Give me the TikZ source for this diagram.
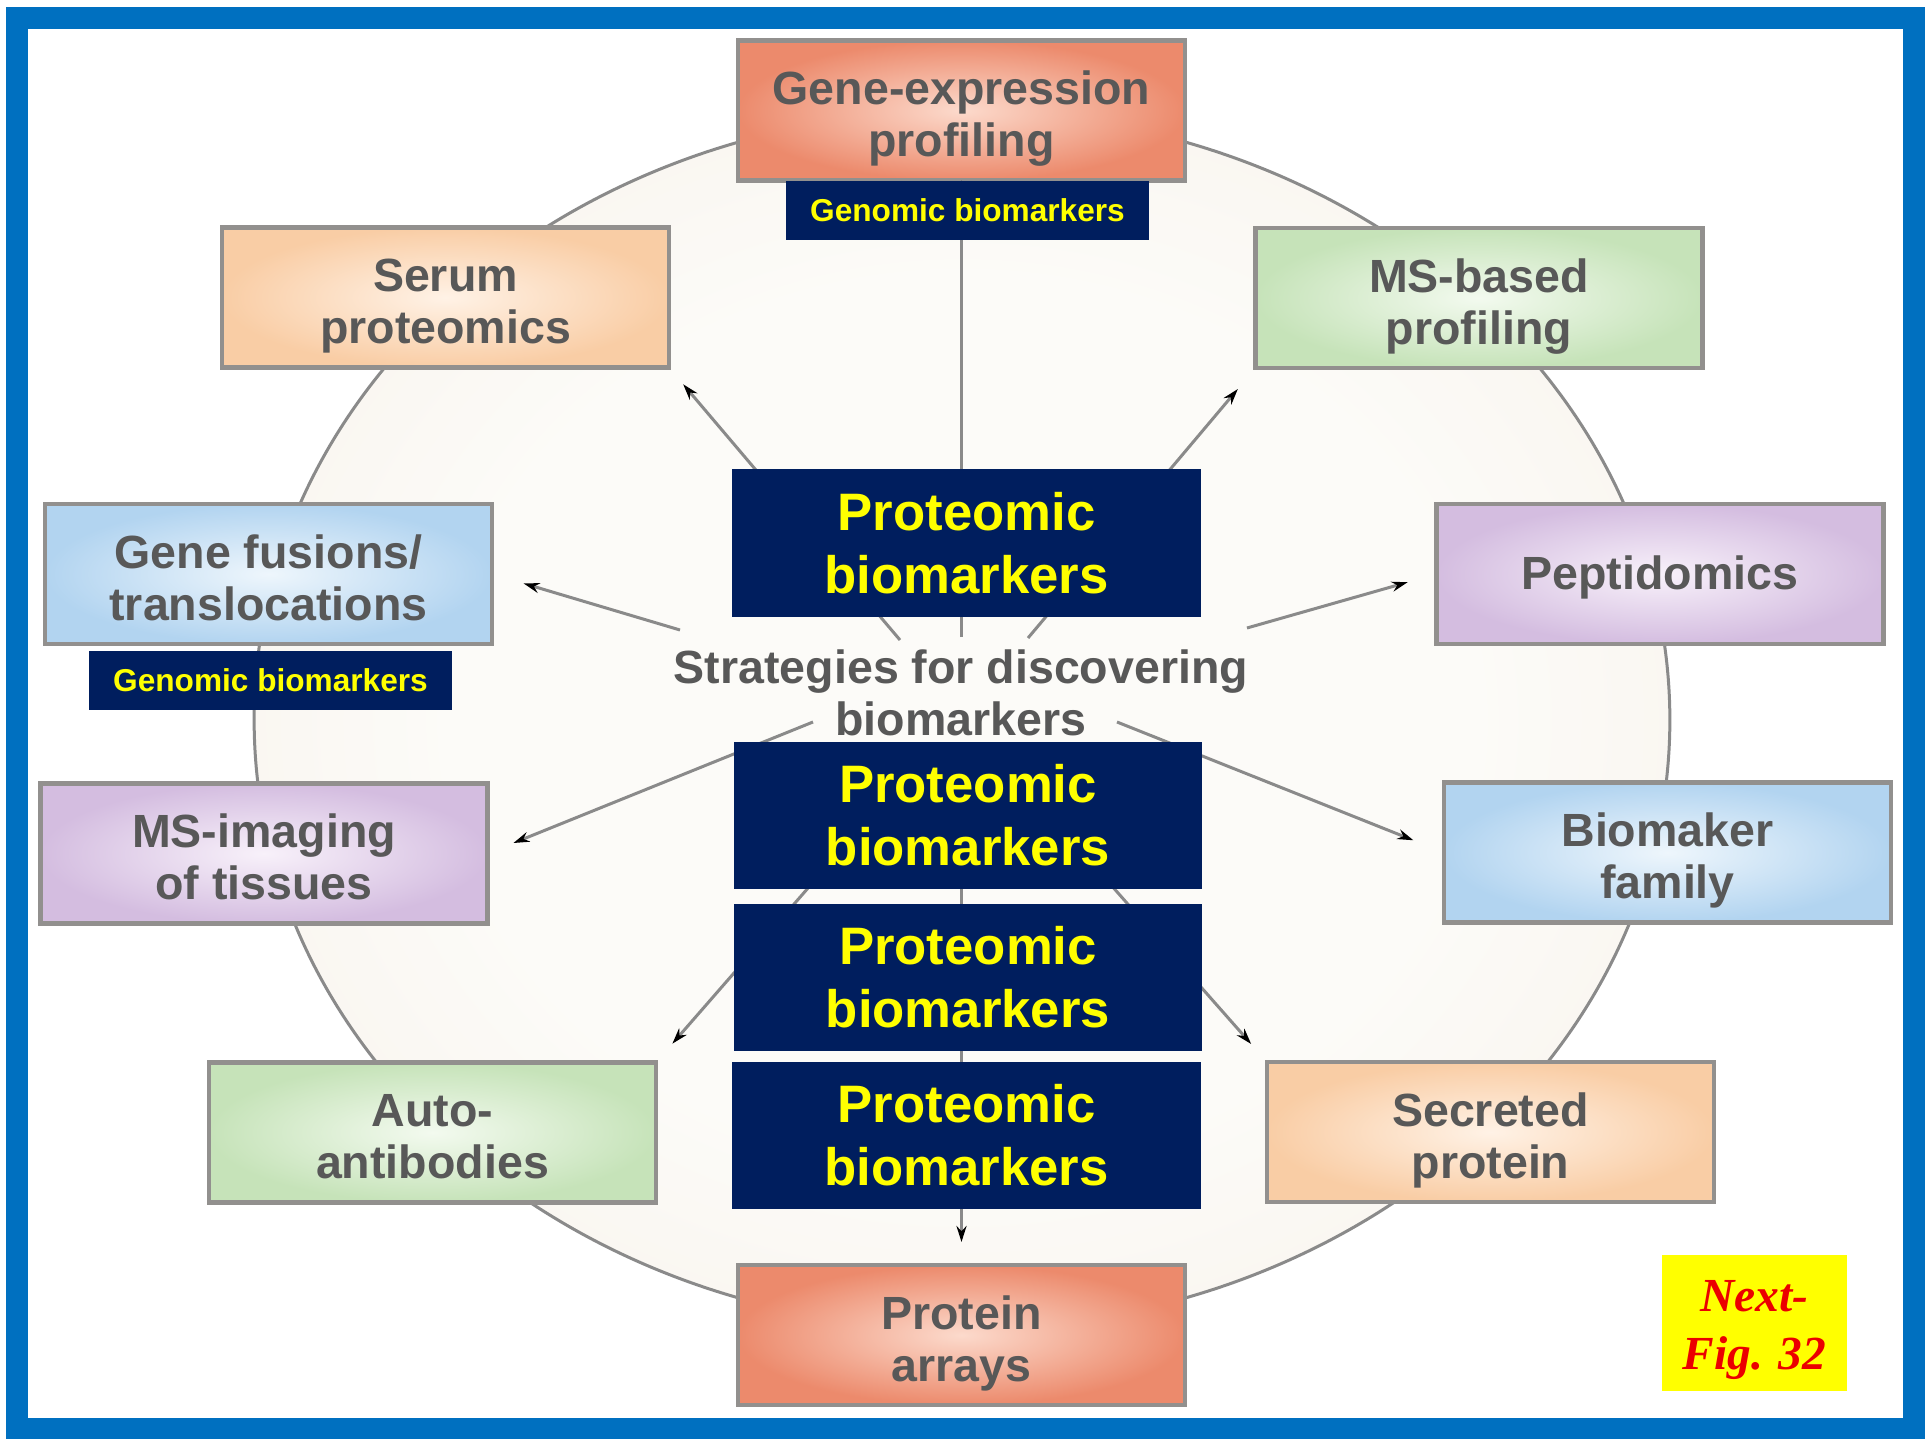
\documentclass[tikz,border=0pt]{standalone}
\usepackage{fontspec}
\setmainfont{Liberation Sans}
\newfontfamily\nextserif{Liberation Serif}
\usetikzlibrary{arrows.meta}
\definecolor{frameblue}{RGB}{0,112,192}
\definecolor{navy}{RGB}{0,30,94}
\definecolor{yel}{RGB}{255,255,0}
\definecolor{nextred}{RGB}{235,0,0}
\definecolor{linegray}{RGB}{138,138,138}
\definecolor{boxborder}{RGB}{146,144,142}
\definecolor{txtgray}{RGB}{88,88,88}
\definecolor{salmonout}{RGB}{236,138,108}
\definecolor{salmonin}{RGB}{252,218,204}
\definecolor{peachout}{RGB}{249,205,165}
\definecolor{peachin}{RGB}{255,242,230}
\definecolor{greenout}{RGB}{198,227,185}
\definecolor{greenin}{RGB}{243,250,239}
\definecolor{blueout}{RGB}{178,212,240}
\definecolor{bluein}{RGB}{238,246,252}
\definecolor{lavout}{RGB}{212,189,224}
\definecolor{lavin}{RGB}{248,241,250}
\definecolor{creamin}{RGB}{252,251,248}
\definecolor{creamout}{RGB}{242,234,219}
\pgfdeclareradialshading{creamglow}{\pgfpoint{0bp}{0bp}}{color(0bp)=(creamin); color(18bp)=(creamin); color(50bp)=(creamout)}
\newcommand{\boxtxt}[2][0.2cm]{\raisebox{-#1}[\height][\depth]{\begin{tabular}{@{}c@{}}#2\end{tabular}}}
\tikzset{
  graybox/.style={draw=boxborder, line width=0.085cm, minimum width=8.94cm, minimum height=2.8cm,
    inner sep=0pt, outer sep=0pt, text=txtgray,
    font=\fontsize{26.5}{29.5}\selectfont\bfseries},
  salmonbox/.style={graybox, inner color=salmonin, outer color=salmonout},
  peachbox/.style={graybox, inner color=peachin, outer color=peachout},
  greenbox/.style={graybox, inner color=greenin, outer color=greenout},
  bluebox/.style={graybox, inner color=bluein, outer color=blueout},
  lavbox/.style={graybox, inner color=lavin, outer color=lavout},
  navylab/.style={fill=navy, text=yel, inner sep=0pt, minimum width=7.26cm, minimum height=1.18cm,
    font=\fontsize{18}{20}\selectfont\bfseries},
  protbox/.style={fill=navy, text=yel, inner sep=0pt, minimum width=9.38cm, minimum height=2.96cm,
    align=center, font=\fontsize{30}{35.7}\selectfont\bfseries},
  ray/.style={draw=linegray, line width=0.06cm, -{Stealth[length=0.32cm, width=0.2cm, color=black]}},
  rim/.style={draw=linegray, line width=0.06cm}
}
\begin{document}
\begin{tikzpicture}[x=0.02cm, y=-0.02cm]
\useasboundingbox (0,0) rectangle (1931,1439);
\fill[white] (0,0) rectangle (1931,1439);
% background disc
\shade[shading=creamglow] (962,720) ellipse [x radius=14.16cm, y radius=12.18cm];
\draw[rim] (962,720) ellipse [x radius=14.16cm, y radius=12.18cm];
% centre text
\node[text=txtgray, align=center, inner sep=0pt, font=\fontsize{26.5}{29.5}\selectfont\bfseries] (strat) at (961,693) {Strategies for discovering\\biomarkers};
% boxes
\node[salmonbox] (geneexp) at (961.5,110.5) {\boxtxt{Gene-expression\\profiling}};
\node[peachbox] (serum) at (445.5,297.5) {\boxtxt{Serum\\proteomics}};
\node[greenbox] (msbased) at (1479,298) {\boxtxt{MS-based\\profiling}};
\node[bluebox] (genefus) at (268.5,574) {\boxtxt{Gene fusions/\\translocations}};
\node[lavbox] (peptid) at (1660,574) {\boxtxt[0.1cm]{Peptidomics}};
\node[lavbox] (msimag) at (264,853.5) {\boxtxt{MS-imaging\\of tissues}};
\node[bluebox] (biomaker) at (1667.5,852.5) {\boxtxt{Biomaker\\family}};
\node[greenbox] (autoab) at (432.5,1132.5) {\boxtxt{Auto-\\antibodies}};
\node[peachbox] (secreted) at (1490.5,1132) {\boxtxt{Secreted\\protein}};
\node[salmonbox] (protarr) at (961.5,1335) {\boxtxt{Protein\\arrays}};
% ray start points
\coordinate (s1) at (900,640);
\coordinate (s2) at (961.5,637);
\coordinate (s3) at (1028,638);
\coordinate (s4) at (680,630);
\coordinate (s5) at (1247,628);
\coordinate (s6) at (813,722);
\coordinate (s7) at (1117,722);
\coordinate (s8) at (822,872);
\coordinate (s9) at (1096,868);
\coordinate (s10) at (961.5,870);
% rays
\draw[ray, shorten >=0.44cm] (s1) -- (serum.south east);
\draw[ray] (s2) -- (geneexp.south);
\draw[ray, shorten >=0.55cm] (s3) -- (msbased.south west);
\draw[ray, shorten >=0.66cm] (s4) -- (genefus.east);
\draw[ray, shorten >=0.6cm] (s5) -- (peptid.west);
\draw[ray, shorten >=0.56cm] (s6) -- (msimag.east);
\draw[ray, shorten >=0.66cm] (s7) -- (biomaker.west);
\draw[ray, shorten >=0.5cm] (s8) -- (autoab.north east);
\draw[ray, shorten >=0.48cm] (s9) -- (secreted.north west);
\draw[ray, shorten >=0.46cm] (s10) -- (protarr.north);
% navy labels
\node[navylab] (glab1) at (967.5,210.5) {Genomic biomarkers};
\node[navylab] (glab2) at (270.5,680.5) {Genomic biomarkers};
\node[protbox] (p1) at (966.5,543) {Proteomic\\biomarkers};
\node[protbox] (p2) at (968,815.5) {Proteomic\\biomarkers};
\node[protbox] (p3) at (968,977.5) {Proteomic\\biomarkers};
\node[protbox] (p4) at (966.5,1135.5) {Proteomic\\biomarkers};
% next box
\node[fill=yel, text=nextred, inner sep=0pt, minimum width=3.7cm, minimum height=2.72cm, align=center,
  font=\nextserif\bfseries\itshape\fontsize{27}{33}\selectfont] (next) at (1754.5,1323) {\raisebox{-0.12cm}[\height][\depth]{\begin{tabular}{@{}c@{}}Next-\\Fig. 32\end{tabular}}};
% frame
\draw[frameblue, line width=0.44cm] (17,18) rectangle (1914,1429);
\end{tikzpicture}
\end{document}
